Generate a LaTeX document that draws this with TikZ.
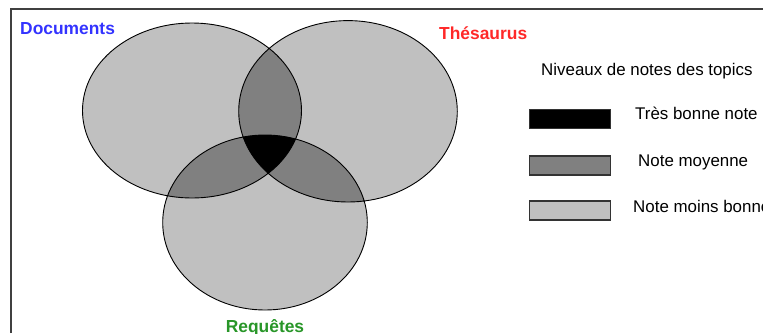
\documentclass[tikz,border=0pt]{standalone}
\usepackage{fontspec}
\setmainfont{Liberation Sans}
\definecolor{docblue}{RGB}{51,51,255}
\definecolor{thesred}{RGB}{255,40,40}
\definecolor{reqgreen}{RGB}{40,150,40}
\definecolor{lightnote}{RGB}{192,192,192}
\definecolor{midnote}{RGB}{128,128,128}
\newcommand{\docset}{(192,110.5) ellipse [x radius=109.5pt, y radius=87.5pt]}
\newcommand{\thesset}{(348,111.3) ellipse [x radius=109.3pt, y radius=90.7pt]}
\newcommand{\reqset}{(265,222.5) ellipse [x radius=102.3pt, y radius=87.5pt]}

\begin{document}
\begin{tikzpicture}[x=1pt, y=-1pt,
    every node/.style={font=\fontsize{16.9}{20}\selectfont, inner sep=0pt},
    settitle/.style={font=\fontsize{17.4}{20}\selectfont\bfseries},
    legbox/.style={draw=black!80, line width=1.3pt, minimum width=81pt, minimum height=19pt}]
  \clip (0,0) rectangle (763,333);
  \fill[white] (0,0) rectangle (763,333);
  \draw[black!75, line width=2pt] (11,333) -- (11,9) -- (763,9);
  % sets and their overlaps
  \fill[lightnote] \docset \thesset \reqset;
  \begin{scope} \clip \docset; \fill[midnote] \thesset \reqset; \end{scope}
  \begin{scope} \clip \thesset; \fill[midnote] \reqset; \end{scope}
  \begin{scope} \clip \docset; \clip \thesset; \fill[black] \reqset; \end{scope}
  \draw[line width=0.9pt] \docset \thesset \reqset;
  \node[settitle, text=docblue, anchor=base west] (documents) at (20,34) {Documents};
  \node[settitle, text=thesred, anchor=base west] (thesaurus) at (439,39) {Thésaurus};
  \node[settitle, text=reqgreen, anchor=base] (requetes) at (265,332) {Requêtes};
  % legend
  \node[anchor=base west] (niveaux) at (541,75) {Niveaux de notes des topics};
  \foreach \i/\col/\cy/\tx/\ty/\lbl in {1/black/119/635/119.5/Très bonne note,
      2/midnote/165.5/638/166/Note moyenne, 3/lightnote/210.5/633/212.7/Note moins bonne} {
    \node[legbox, fill=\col] (box\i) at (570,\cy) {};
    \node[anchor=base west] (note\i) at (\tx,\ty) {\lbl};
  }
\end{tikzpicture}
\end{document}
